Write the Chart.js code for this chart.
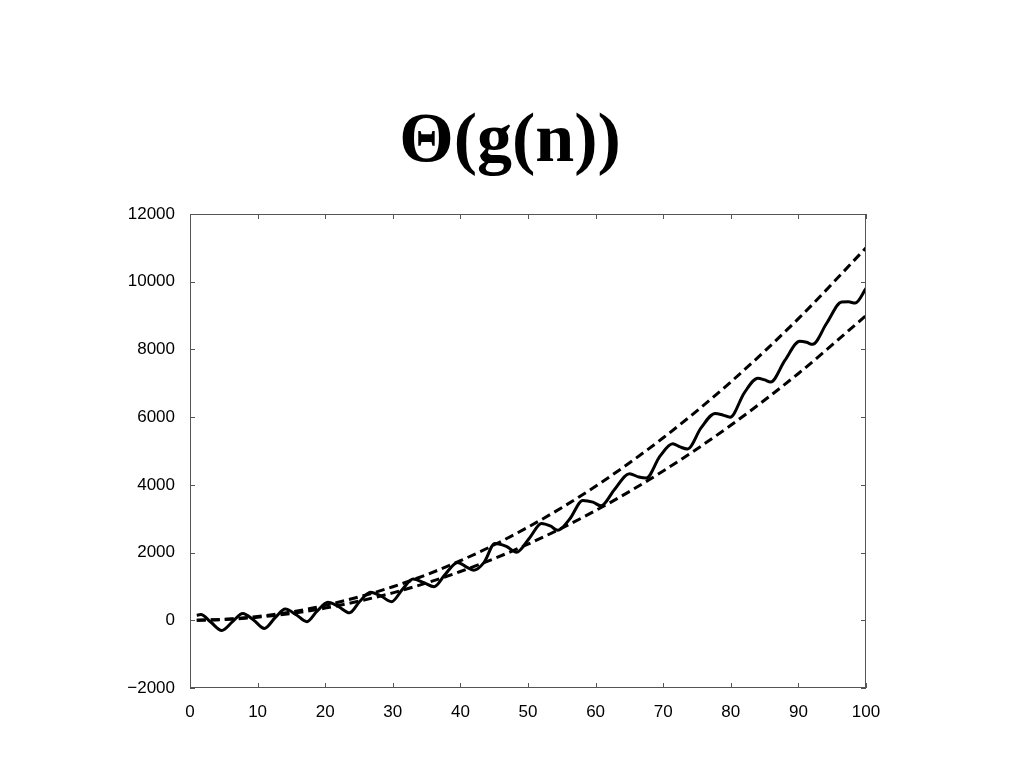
<!DOCTYPE html>
<html>
<head>
<meta charset="utf-8">
<title>Θ(g(n))</title>
<script src="https://cdn.jsdelivr.net/npm/chart.js@4.4.1/dist/chart.umd.min.js"></script>
<style>
  html, body { margin: 0; padding: 0; background: #fff; }
  canvas { display: block; }
</style>
</head>
<body>
<canvas id="theta" width="1024" height="768"></canvas>
<script>
// --- data ---
const titleText = 'Θ(g(n))';

// wavy f(n), sampled at peaks, troughs and the points between them
const waveN = [1, 1.6, 3.1, 4.7, 6.3, 7.8, 9.4, 11.0, 12.6, 14.1, 15.7, 17.3, 18.8, 20.4,
  22.0, 23.6, 25.1, 26.7, 28.3, 29.8, 31.4, 33.0, 34.6, 36.1, 37.7, 39.6, 41.0, 42.0,
  43.5, 45.1, 46.8, 48.3, 50.2, 52.0, 53.3, 54.4, 56.2, 58.1, 59.6, 60.8, 62.8, 65.0,
  66.4, 67.5, 69.5, 71.4, 72.5, 73.6, 75.6, 77.7, 78.8, 79.9, 82.0, 84.0, 85.0, 85.9,
  88.0, 90.2, 91.2, 92.1, 94.2, 96.4, 97.4, 98.4, 100];
const waveV = [150, 170, -60, -300, -40, 200, 10, -240, 80, 330, 165, -40, 270, 530,
  400, 220, 555, 830, 710, 550, 905, 1220, 1110, 990, 1345, 1710, 1565, 1480,
  1710, 2270, 2185, 2010, 2425, 2860, 2785, 2660, 3000, 3540, 3490, 3380, 3865, 4330,
  4230, 4200, 4840, 5215, 5120, 5060, 5685, 6110, 6065, 6000, 6720, 7150, 7100, 7040,
  7675, 8240, 8210, 8150, 8780, 9400, 9405, 9370, 9800];

// dashed bounds c1*g(n) and c2*g(n)
const boundN = [1, 5, 10, 15, 20, 30, 40, 50, 60, 70, 80, 90, 100];
const upperV = [1, 28, 110, 248, 440, 990, 1760, 2750, 3960, 5390, 7040, 8910, 11000];
const lowerV = [1, 23, 90, 203, 360, 810, 1440, 2250, 3240, 4410, 5760, 7290, 9000];

const xTicks = [0, 10, 20, 30, 40, 50, 60, 70, 80, 90, 100];
const yTicks = [-2000, 0, 2000, 4000, 6000, 8000, 10000, 12000];

const toPts = (xs, ys) => xs.map((x, i) => ({ x, y: ys[i] }));

// big serif title, centred over the slide rather than the plot
const slideTitle = {
    id: 'slideTitle',
    afterDraw(chart) {
        const ctx = chart.ctx;
        ctx.save();
        ctx.fillStyle = '#000';
        ctx.font = 'bold 70px "Liberation Serif", "Times New Roman", serif';
        ctx.textAlign = 'center';
        ctx.textBaseline = 'alphabetic';
        ctx.fillText(titleText, 510, 161);
        ctx.restore();
    }
};

// matlab-style box with inward ticks on all four sides
const boxTicks = {
    id: 'boxTicks',
    afterDraw(chart) {
        const { ctx, chartArea: a, scales } = chart;
        const len = 5;
        ctx.save();
        ctx.strokeStyle = '#555';
        ctx.lineWidth = 1;
        ctx.strokeRect(a.left + 0.5, a.top + 0.5, a.right - a.left - 1, a.bottom - a.top - 1);
        ctx.beginPath();
        xTicks.forEach(v => {
            const px = Math.round(scales.x.getPixelForValue(v)) + 0.5;
            ctx.moveTo(px, a.bottom); ctx.lineTo(px, a.bottom - len);
            ctx.moveTo(px, a.top); ctx.lineTo(px, a.top + len);
        });
        yTicks.forEach(v => {
            const py = Math.round(scales.y.getPixelForValue(v)) + 0.5;
            ctx.moveTo(a.left, py); ctx.lineTo(a.left + len, py);
            ctx.moveTo(a.right, py); ctx.lineTo(a.right - len, py);
        });
        ctx.stroke();
        ctx.restore();
    }
};

const lineDefaults = {
    borderColor: '#000',
    pointRadius: 0,
    fill: false,
    cubicInterpolationMode: 'monotone',
};

const tickFont = { family: '"Liberation Sans", Arial, sans-serif', size: 17 };

new Chart(document.getElementById('theta'), {
    type: 'line',
    data: {
        datasets: [
            { ...lineDefaults, label: 'upper', data: toPts(boundN, upperV), borderWidth: 3, borderDash: [9, 5] },
            { ...lineDefaults, label: 'lower', data: toPts(boundN, lowerV), borderWidth: 3, borderDash: [9, 5] },
            { ...lineDefaults, label: 'f(n)', data: toPts(waveN, waveV), borderWidth: 3 },
        ],
    },
    options: {
        responsive: false,
        animation: false,
        layout: { padding: { left: 110, right: 158, top: 214, bottom: 50 } },
        plugins: {
            legend: { display: false },
            tooltip: { enabled: false },
            title: { display: false },
        },
        scales: {
            x: {
                type: 'linear',
                min: 0, max: 100,
                afterBuildTicks: s => { s.ticks = xTicks.map(v => ({ value: v })); },
                afterFit: s => { s.height = 30; },
                grid: { display: false },
                border: { display: false },
                ticks: {
                    color: '#000', padding: 6, maxRotation: 0,
                    font: tickFont,
                    callback: v => String(v),
                },
            },
            y: {
                min: -2000, max: 12000,
                afterBuildTicks: s => { s.ticks = yTicks.map(v => ({ value: v })); },
                afterFit: s => { s.width = 80; },
                grid: { display: false },
                border: { display: false },
                ticks: {
                    color: '#000', padding: 7,
                    font: tickFont,
                    callback: v => String(v).replace('-', '\u2212'),
                },
            },
        },
    },
    plugins: [boxTicks, slideTitle],
});
</script>
</body>
</html>
